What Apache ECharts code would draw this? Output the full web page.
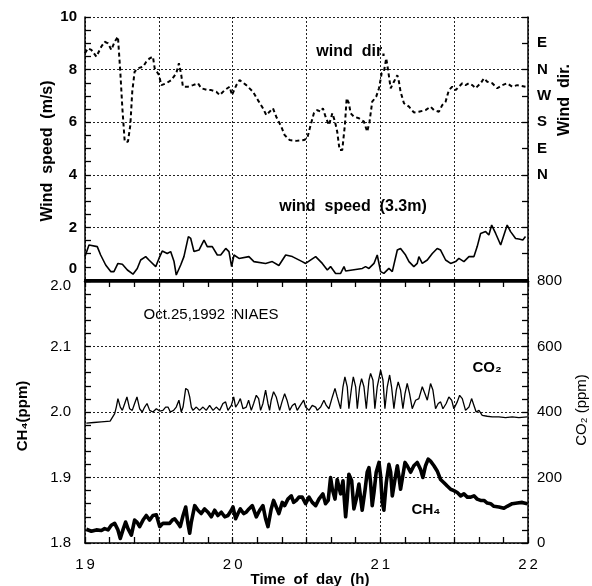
<!DOCTYPE html>
<html><head><meta charset="utf-8">
<script src="https://cdn.jsdelivr.net/npm/echarts/dist/echarts.min.js"></script>
<style>html,body{margin:0;padding:0;background:#fff}#c{width:592px;height:586px}</style>
</head><body><div id="c"></div>
<script>
// ---------- tick labels ----------
const speedTickLabels = ['0','2','4','6','8','10'];          // values 0..10 step 2
const dirTickLabels = ['','','','','N','E','S','W','N','E',''];  // values 0..10 step 1
const ch4TickLabels = ['1.8','1.9','2.0','2.1','2.0'];        // values 1.8..2.2 step 0.1 (top label printed as in figure)
const co2TickLabels = ['0','200','400','600','800'];
const timeTickLabels = {19:'1\u20099',20:'2\u20090',21:'2\u20091',22:'2\u20092'};

// ---------- wind direction (dashed, plotted on wind-speed scale) ----------
const windDirT = [19.000,19.020,19.043,19.077,19.110,19.133,19.156,19.178,19.201,19.223,19.239,19.253,19.269,19.291,19.307,19.320,19.336,19.359,19.393,19.415,19.438,19.460,19.472,19.487,19.501,19.517,19.550,19.584,19.618,19.636,19.652,19.663,19.697,19.731,19.765,19.787,19.833,19.855,19.889,19.912,19.946,19.980,19.995,20.025,20.047,20.092,20.137,20.171,20.205,20.228,20.250,20.273,20.295,20.329,20.352,20.386,20.431,20.483,20.505,20.528,20.550,20.573,20.596,20.611,20.629,20.652,20.675,20.693,20.708,20.724,20.742,20.760,20.772,20.787,20.799,20.821,20.855,20.889,20.911,20.927,20.945,20.972,20.991,21.009,21.024,21.040,21.054,21.070,21.092,21.115,21.126,21.137,21.160,21.194,21.227,21.261,21.306,21.340,21.363,21.397,21.419,21.442,21.464,21.487,21.510,21.532,21.555,21.577,21.600,21.623,21.645,21.679,21.702,21.724,21.758,21.792,21.826,21.859,21.893,21.927,21.983];
const windDirV = [8.62,8.81,8.75,8.49,8.87,9.06,9.00,8.75,9.06,9.25,7.92,6.53,5.26,5.26,5.89,7.16,7.92,8.05,8.11,8.30,8.43,8.49,8.05,7.92,7.79,7.41,7.48,7.60,7.86,8.24,7.79,7.35,7.35,7.41,7.48,7.29,7.22,7.22,7.16,7.03,7.22,7.35,7.03,7.41,7.60,7.41,7.16,6.84,6.53,6.27,6.40,6.53,6.21,5.83,5.51,5.32,5.29,5.32,5.39,5.89,6.34,6.46,6.40,6.53,6.21,5.89,6.34,6.02,5.64,4.94,4.94,5.89,6.91,6.72,6.34,6.21,6.15,6.02,5.64,6.02,6.78,6.97,7.29,7.86,7.92,8.43,7.92,7.29,7.54,7.79,7.54,7.16,6.72,6.59,6.37,6.40,6.46,6.59,6.46,6.40,6.65,6.78,7.22,7.35,7.22,7.35,7.48,7.41,7.48,7.41,7.29,7.48,7.67,7.54,7.48,7.29,7.41,7.48,7.35,7.41,7.35];

// ---------- wind speed at 3.3 m (m/s) ----------
const windSpdT = [19.000,19.027,19.083,19.106,19.140,19.174,19.196,19.223,19.253,19.287,19.325,19.354,19.377,19.411,19.433,19.479,19.501,19.523,19.557,19.580,19.603,19.618,19.648,19.670,19.700,19.716,19.738,19.772,19.806,19.828,19.862,19.896,19.919,19.953,19.975,19.993,20.009,20.043,20.110,20.144,20.223,20.268,20.313,20.359,20.404,20.471,20.494,20.562,20.607,20.641,20.663,20.697,20.731,20.754,20.765,20.810,20.878,20.900,20.923,20.957,20.979,21.002,21.024,21.058,21.081,21.115,21.137,21.171,21.194,21.227,21.250,21.261,21.284,21.318,21.352,21.385,21.408,21.442,21.476,21.510,21.532,21.566,21.600,21.634,21.656,21.679,21.713,21.735,21.754,21.781,21.815,21.837,21.859,21.882,21.893,21.916,21.938,21.965,21.983];
const windSpdV = [0.89,1.33,1.27,0.95,0.57,0.32,0.32,0.63,0.60,0.38,0.22,0.44,0.76,0.89,0.76,0.51,0.82,1.10,1.01,1.08,0.70,0.19,0.57,0.89,1.65,1.58,1.08,1.14,1.52,1.27,1.27,0.95,0.95,1.20,1.08,0.51,0.95,0.82,0.89,0.70,0.63,0.70,0.55,0.95,0.89,0.70,0.63,0.89,0.63,0.38,0.51,0.25,0.25,0.51,0.34,0.38,0.44,0.51,0.44,0.63,0.95,0.32,0.25,0.44,0.32,1.14,1.20,0.95,0.70,0.51,0.63,0.89,0.63,0.76,1.01,1.20,1.14,0.76,0.63,0.70,0.82,0.70,0.89,0.89,1.27,1.77,1.84,1.71,2.09,1.77,1.33,1.71,2.09,1.84,1.90,1.58,1.56,1.52,1.65];

// ---------- CO2 (ppm) ----------
const co2T = [19.009,19.060,19.110,19.170,19.201,19.212,19.223,19.239,19.253,19.269,19.284,19.302,19.320,19.336,19.352,19.370,19.388,19.404,19.420,19.438,19.460,19.483,19.506,19.528,19.546,19.562,19.578,19.600,19.618,19.636,19.652,19.664,19.682,19.697,19.709,19.720,19.731,19.754,19.776,19.799,19.821,19.844,19.867,19.889,19.912,19.934,19.952,19.968,19.991,20.007,20.020,20.036,20.052,20.070,20.092,20.108,20.126,20.142,20.160,20.176,20.189,20.205,20.223,20.239,20.250,20.261,20.277,20.295,20.318,20.334,20.352,20.368,20.386,20.404,20.422,20.437,20.458,20.481,20.494,20.517,20.539,20.562,20.573,20.596,20.618,20.634,20.652,20.675,20.693,20.708,20.731,20.747,20.760,20.776,20.787,20.806,20.817,20.833,20.844,20.860,20.873,20.889,20.905,20.923,20.934,20.950,20.963,20.979,21.002,21.018,21.031,21.047,21.063,21.076,21.092,21.108,21.121,21.137,21.153,21.167,21.182,21.198,21.216,21.239,21.261,21.284,21.302,21.318,21.340,21.356,21.374,21.392,21.408,21.424,21.446,21.464,21.483,21.498,21.521,21.537,21.555,21.577,21.600,21.618,21.634,21.649,21.668,21.690,21.724,21.758,21.803,21.848,21.893,21.938,21.995];
const co2V = [366,368,370,372,395,415,441,415,405,426,446,410,405,426,446,410,400,415,426,405,400,410,403,405,415,415,400,405,415,436,400,415,472,467,446,415,405,415,405,415,405,420,405,415,405,426,431,405,420,446,415,426,441,410,415,436,405,426,451,441,405,426,467,426,405,436,462,446,405,431,456,436,405,420,426,405,420,436,415,405,420,415,405,415,436,420,410,446,472,446,410,477,507,477,410,477,507,477,410,477,502,477,410,497,518,497,410,477,528,497,410,477,513,477,410,467,492,467,410,456,487,456,410,436,441,477,456,436,487,467,410,426,431,410,426,446,436,410,431,451,441,405,415,441,420,400,405,390,387,385,385,383,385,383,385];

// ---------- CH4 (ppm) ----------
const ch4T = [19.009,19.043,19.077,19.111,19.133,19.156,19.178,19.201,19.223,19.239,19.257,19.275,19.291,19.314,19.336,19.352,19.370,19.393,19.415,19.438,19.460,19.483,19.506,19.528,19.551,19.573,19.591,19.607,19.630,19.645,19.664,19.682,19.697,19.709,19.720,19.743,19.765,19.787,19.810,19.833,19.855,19.878,19.900,19.923,19.946,19.968,19.991,20.002,20.020,20.036,20.052,20.074,20.092,20.110,20.133,20.160,20.183,20.205,20.223,20.239,20.261,20.277,20.295,20.313,20.336,20.352,20.374,20.397,20.413,20.431,20.449,20.471,20.494,20.517,20.539,20.562,20.584,20.611,20.629,20.647,20.663,20.675,20.693,20.708,20.720,20.731,20.747,20.765,20.776,20.787,20.806,20.821,20.837,20.855,20.866,20.877,20.896,20.911,20.923,20.934,20.945,20.957,20.972,20.991,21.002,21.013,21.024,21.040,21.058,21.070,21.081,21.099,21.115,21.126,21.137,21.148,21.167,21.182,21.205,21.227,21.250,21.273,21.288,21.306,21.324,21.340,21.363,21.385,21.408,21.431,21.453,21.476,21.498,21.521,21.544,21.566,21.589,21.612,21.634,21.656,21.679,21.702,21.724,21.747,21.769,21.803,21.837,21.859,21.893,21.927,21.961,21.995];
const ch4V = [1.821,1.818,1.820,1.819,1.822,1.820,1.827,1.830,1.820,1.807,1.820,1.832,1.822,1.812,1.835,1.832,1.825,1.835,1.842,1.835,1.842,1.843,1.825,1.830,1.830,1.830,1.835,1.837,1.830,1.825,1.842,1.855,1.830,1.815,1.832,1.857,1.850,1.845,1.852,1.847,1.840,1.850,1.842,1.847,1.840,1.842,1.850,1.855,1.837,1.845,1.852,1.845,1.847,1.852,1.857,1.840,1.850,1.857,1.837,1.825,1.852,1.865,1.855,1.845,1.862,1.857,1.867,1.872,1.862,1.865,1.870,1.870,1.860,1.870,1.862,1.857,1.867,1.875,1.860,1.865,1.900,1.882,1.867,1.897,1.885,1.875,1.895,1.840,1.867,1.905,1.895,1.852,1.867,1.890,1.892,1.850,1.880,1.908,1.915,1.892,1.857,1.877,1.908,1.923,1.902,1.862,1.850,1.892,1.920,1.908,1.872,1.897,1.918,1.902,1.882,1.897,1.923,1.918,1.908,1.918,1.923,1.912,1.900,1.918,1.928,1.925,1.918,1.910,1.897,1.892,1.887,1.882,1.880,1.877,1.872,1.875,1.870,1.870,1.872,1.867,1.865,1.865,1.861,1.860,1.856,1.855,1.853,1.856,1.860,1.861,1.862,1.860];

const zip = (t, v) => t.map((x, i) => [x, v[i]]);
const FONT = "'Liberation Sans', Arial, Helvetica, sans-serif";
const dotted = {show: true, lineStyle: {color: '#222', type: [2, 2], width: 1}};
const black = '#000';

const chart = echarts.init(document.getElementById('c'), null, {renderer: 'canvas'});
const L = 85, R = 64;
chart.setOption({
  backgroundColor: '#fff',
  animation: false,
  grid: [
    {left: L, right: R, top: 17, height: 263},
    {left: L, right: R, top: 281, height: 262}
  ],
  xAxis: [
    {gridIndex: 0, type: 'value', position: 'bottom', min: 19, max: 22, interval: 0.5,
     axisLine: {lineStyle: {color: black, width: 2}}, axisTick: {show: false},
     axisLabel: {show: false}, splitLine: dotted},
    {gridIndex: 0, type: 'value', position: 'top', min: 19, max: 22, interval: 0.5,
     axisLine: {show: true, lineStyle: {color: black, width: 1.5}}, axisTick: {show: false},
     axisLabel: {show: false}, splitLine: {show: false}},
    {gridIndex: 1, type: 'value', position: 'bottom', min: 19, max: 22, interval: 0.5,
     axisLine: {lineStyle: {color: black, width: 1.5}},
     axisTick: {inside: true, length: 6, lineStyle: {color: black, width: 1.3}},
     minorTick: {show: true, splitNumber: 3, length: 6, lineStyle: {color: black, width: 1.3}},
     axisLabel: {margin: 14, fontFamily: FONT, fontSize: 15, color: black,
       formatter: v => timeTickLabels[Math.round(v * 2) / 2] || ''},
     splitLine: dotted},
    {gridIndex: 1, type: 'value', position: 'top', min: 19, max: 22, interval: 0.5,
     axisLine: {show: true, lineStyle: {color: black, width: 2.5}},
     axisTick: {show: true, inside: true, length: 6, lineStyle: {color: black, width: 1.3}},
     minorTick: {show: true, splitNumber: 3, length: 6, lineStyle: {color: black, width: 1.3}},
     axisLabel: {show: false}, splitLine: {show: false}}
  ],
  yAxis: [
    {gridIndex: 0, type: 'value', position: 'left', min: 0, max: 10, interval: 2,
     axisLine: {show: true, lineStyle: {color: black, width: 1.5}},
     axisTick: {show: true, inside: true, length: 6, lineStyle: {color: black, width: 1.3}},
     minorTick: {show: true, splitNumber: 4, length: 6, lineStyle: {color: black, width: 1.3}},
     axisLabel: {margin: 8, fontFamily: FONT, fontSize: 15, fontWeight: 'bold', color: black, lineHeight: 22,
       formatter: v => { const s = speedTickLabels[Math.round(v / 2)]; return v === 0 ? s + '\n' : s; }},
     splitLine: dotted},
    {gridIndex: 0, type: 'value', position: 'right', min: 0, max: 10, interval: 1,
     axisLine: {show: true, lineStyle: {color: black, width: 1.5}},
     axisTick: {show: true, inside: true, length: 6, lineStyle: {color: black, width: 1.3}},
     axisLabel: {margin: 9, fontFamily: FONT, fontSize: 15, fontWeight: 'bold', color: black,
       formatter: v => dirTickLabels[Math.round(v)] || ''},
     splitLine: {show: false}},
    {gridIndex: 1, type: 'value', position: 'left', min: 1.8, max: 2.2, interval: 0.1,
     axisLine: {show: true, lineStyle: {color: black, width: 1.5}},
     axisTick: {show: true, inside: true, length: 6, lineStyle: {color: black, width: 1.3}},
     minorTick: {show: true, splitNumber: 5, length: 6, lineStyle: {color: black, width: 1.3}},
     axisLabel: {margin: 14, fontFamily: FONT, fontSize: 15, color: black, lineHeight: 10,
       formatter: v => { const i = Math.round((v - 1.8) * 10); const s = ch4TickLabels[i]; return i === 4 ? '\n' + s : s; }},
     splitLine: dotted},
    {gridIndex: 1, type: 'value', position: 'right', min: 0, max: 800, interval: 200,
     axisLine: {show: true, lineStyle: {color: black, width: 1.5}},
     axisTick: {show: true, inside: true, length: 6, lineStyle: {color: black, width: 1.3}},
     minorTick: {show: true, splitNumber: 5, length: 6, lineStyle: {color: black, width: 1.3}},
     axisLabel: {margin: 9, fontFamily: FONT, fontSize: 15, color: black,
       formatter: v => co2TickLabels[Math.round(v / 200)]},
     splitLine: {show: false}}
  ],
  series: [
    {name: 'wind dir.', type: 'line', xAxisIndex: 0, yAxisIndex: 0, data: zip(windDirT, windDirV),
     showSymbol: false, symbol: 'none', lineStyle: {color: black, width: 2, type: [4, 3]}},
    {name: 'wind speed (3.3m)', type: 'line', xAxisIndex: 0, yAxisIndex: 0, data: zip(windSpdT, windSpdV),
     showSymbol: false, symbol: 'none', lineStyle: {color: black, width: 1.6}},
    {name: 'CO2', type: 'line', xAxisIndex: 2, yAxisIndex: 3, data: zip(co2T, co2V),
     showSymbol: false, symbol: 'none', lineStyle: {color: black, width: 1.3}},
    {name: 'CH4', type: 'line', xAxisIndex: 2, yAxisIndex: 2, data: zip(ch4T, ch4V),
     showSymbol: false, symbol: 'none', lineStyle: {color: black, width: 3.6, join: 'round'}}
  ],
  graphic: [
    {type: 'text', x: 351, y: 52, style: {text: 'wind  dir.', font: 'bold 16px ' + FONT, fill: black, textAlign: 'center', textVerticalAlign: 'middle', align: 'center', verticalAlign: 'middle'}},
    {type: 'text', x: 353, y: 207, style: {text: 'wind  speed  (3.3m)', font: 'bold 16px ' + FONT, fill: black, textAlign: 'center', textVerticalAlign: 'middle', align: 'center', verticalAlign: 'middle'}},
    {type: 'text', x: 211, y: 315, style: {text: 'Oct.25,1992  NIAES', font: '15px ' + FONT, fill: black, textAlign: 'center', textVerticalAlign: 'middle', align: 'center', verticalAlign: 'middle'}},
    {type: 'text', x: 487, y: 368, style: {text: 'CO\u2082', font: 'bold 15px ' + FONT, fill: black, textAlign: 'center', textVerticalAlign: 'middle', align: 'center', verticalAlign: 'middle'}},
    {type: 'text', x: 426, y: 510, style: {text: 'CH\u2084', font: 'bold 15px ' + FONT, fill: black, textAlign: 'center', textVerticalAlign: 'middle', align: 'center', verticalAlign: 'middle'}},
    {type: 'text', x: 48, y: 151, rotation: Math.PI / 2, style: {text: 'Wind  speed  (m/s)', font: 'bold 16px ' + FONT, fill: black, textAlign: 'center', textVerticalAlign: 'middle', align: 'center', verticalAlign: 'middle'}},
    {type: 'text', x: 565, y: 100, rotation: Math.PI / 2, style: {text: 'Wind  dir.', font: 'bold 16px ' + FONT, fill: black, textAlign: 'center', textVerticalAlign: 'middle', align: 'center', verticalAlign: 'middle'}},
    {type: 'text', x: 23, y: 416, rotation: Math.PI / 2, style: {text: 'CH\u2084(ppm)', font: 'bold 15px ' + FONT, fill: black, textAlign: 'center', textVerticalAlign: 'middle', align: 'center', verticalAlign: 'middle'}},
    {type: 'text', x: 582, y: 410, rotation: Math.PI / 2, style: {text: 'CO\u2082 (ppm)', font: '15px ' + FONT, fill: black, textAlign: 'center', textVerticalAlign: 'middle', align: 'center', verticalAlign: 'middle'}},
    {type: 'text', x: 310, y: 580, style: {text: 'Time  of  day  (h)', font: 'bold 15px ' + FONT, fill: black, textAlign: 'center', textVerticalAlign: 'middle', align: 'center', verticalAlign: 'middle'}}
  ]
});
</script>
</body></html>
